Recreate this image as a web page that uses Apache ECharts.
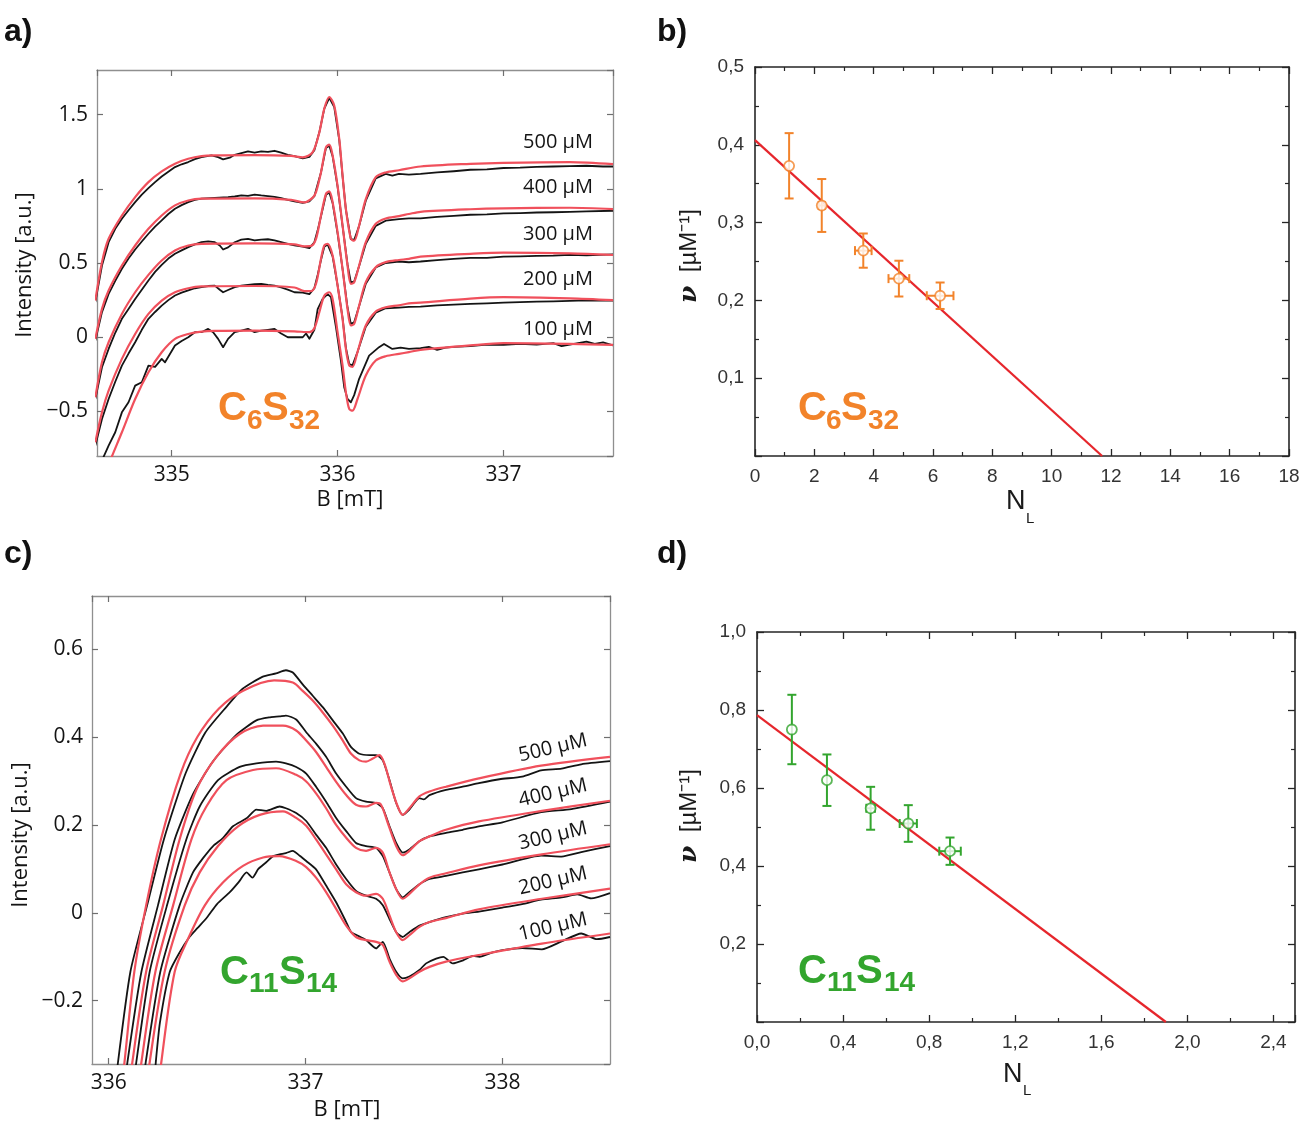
<!DOCTYPE html>
<html><head><meta charset="utf-8">
<script src="https://cdn.jsdelivr.net/npm/echarts@6/dist/echarts.min.js"></script>
<style>html,body{margin:0;padding:0;background:#fff}#c{width:1301px;height:1128px}</style>
</head><body><div id="c"></div>
<script>
// ---------- Panel a) C6S32 EPR spectra  [B (mT), Intensity (a.u.)] ----------
const aRed500 = [[334.54,0.247],[334.58,0.506],[334.62,0.663],[334.70,0.820],[334.78,0.944],[334.86,1.045],[334.94,1.117],[335.02,1.169],[335.10,1.202],[335.18,1.220],[335.26,1.225],[335.50,1.227],[335.72,1.222],[335.79,1.212],[335.85,1.247],[335.89,1.38],[335.92,1.54],[335.95,1.618],[335.98,1.56],[336.01,1.337],[336.03,1.09],[336.05,0.865],[336.08,0.663],[336.10,0.65],[336.13,0.753],[336.17,0.93],[336.23,1.078],[336.29,1.11],[336.37,1.125],[336.5,1.15],[336.8,1.168],[337.0,1.175],[337.4,1.18],[337.66,1.166]];
const aBlk500 = [[334.54,0.236],[334.58,0.483],[334.62,0.64],[334.66,0.73],[334.70,0.798],[334.74,0.855],[334.78,0.91],[334.82,0.96],[334.86,1.004],[334.90,1.045],[334.94,1.083],[334.98,1.115],[335.02,1.146],[335.06,1.165],[335.10,1.18],[335.14,1.2],[335.18,1.213],[335.24,1.225],[335.28,1.213],[335.31,1.198],[335.35,1.209],[335.38,1.229],[335.42,1.24],[335.46,1.252],[335.50,1.243],[335.54,1.252],[335.58,1.248],[335.62,1.256],[335.66,1.243],[335.70,1.229],[335.74,1.22],[335.79,1.205],[335.83,1.215],[335.86,1.26],[335.89,1.38],[335.92,1.54],[335.95,1.612],[335.98,1.55],[336.01,1.33],[336.03,1.085],[336.05,0.86],[336.08,0.66],[336.10,0.655],[336.13,0.75],[336.17,0.92],[336.23,1.07],[336.29,1.1],[336.33,1.088],[336.37,1.1],[336.43,1.095],[336.5,1.1],[336.6,1.11],[336.7,1.118],[336.8,1.128],[336.9,1.13],[337.0,1.14],[337.1,1.142],[337.2,1.148],[337.3,1.15],[337.4,1.152],[337.5,1.155],[337.6,1.15],[337.66,1.15]];
const aRed400 = [[334.54,-0.011],[334.58,0.191],[334.62,0.315],[334.70,0.483],[334.78,0.618],[334.86,0.73],[334.94,0.82],[335.02,0.888],[335.10,0.921],[335.18,0.933],[335.5,0.935],[335.72,0.925],[335.80,0.908],[335.85,0.94],[335.87,0.977],[335.90,1.11],[335.93,1.28],[335.95,1.297],[335.97,1.225],[336.0,1.02],[336.03,0.753],[336.06,0.483],[336.08,0.36],[336.10,0.37],[336.13,0.483],[336.17,0.64],[336.23,0.764],[336.29,0.80],[336.37,0.816],[336.43,0.83],[336.5,0.845],[336.8,0.862],[337.0,0.868],[337.4,0.872],[337.66,0.863]];
const aBlk400 = [[334.54,-0.022],[334.58,0.169],[334.62,0.292],[334.66,0.38],[334.70,0.461],[334.74,0.53],[334.78,0.591],[334.82,0.645],[334.86,0.697],[334.90,0.745],[334.94,0.787],[334.98,0.83],[335.02,0.865],[335.06,0.89],[335.10,0.91],[335.14,0.925],[335.18,0.933],[335.26,0.939],[335.34,0.944],[335.38,0.948],[335.42,0.955],[335.46,0.952],[335.50,0.96],[335.54,0.955],[335.58,0.951],[335.62,0.945],[335.66,0.937],[335.70,0.925],[335.74,0.915],[335.79,0.905],[335.83,0.915],[335.86,0.95],[335.88,1.03],[335.90,1.11],[335.93,1.275],[335.95,1.29],[335.97,1.22],[336.0,1.015],[336.03,0.75],[336.06,0.49],[336.08,0.37],[336.10,0.375],[336.13,0.48],[336.17,0.63],[336.23,0.75],[336.29,0.785],[336.37,0.795],[336.43,0.80],[336.5,0.80],[336.6,0.81],[336.7,0.818],[336.8,0.825],[336.9,0.828],[337.0,0.834],[337.1,0.836],[337.2,0.84],[337.3,0.842],[337.4,0.845],[337.5,0.848],[337.66,0.852]];
const aRed300 = [[334.54,-0.404],[334.58,-0.169],[334.62,-0.034],[334.70,0.157],[334.78,0.303],[334.86,0.42],[334.94,0.517],[335.02,0.584],[335.10,0.618],[335.18,0.629],[335.5,0.632],[335.74,0.625],[335.80,0.612],[335.84,0.615],[335.87,0.663],[335.90,0.82],[335.93,0.966],[335.95,0.982],[335.97,0.91],[336.0,0.708],[336.03,0.46],[336.06,0.19],[336.08,0.079],[336.10,0.09],[336.13,0.213],[336.17,0.371],[336.23,0.472],[336.29,0.506],[336.37,0.52],[336.43,0.528],[336.5,0.543],[336.8,0.562],[337.0,0.57],[337.4,0.565],[337.66,0.554]];
const aBlk300 = [[334.54,-0.416],[334.58,-0.202],[334.62,-0.079],[334.66,0.03],[334.70,0.124],[334.74,0.19],[334.78,0.258],[334.82,0.32],[334.86,0.382],[334.90,0.44],[334.94,0.488],[334.98,0.53],[335.02,0.562],[335.06,0.585],[335.10,0.607],[335.14,0.625],[335.18,0.64],[335.22,0.645],[335.26,0.64],[335.29,0.618],[335.31,0.591],[335.34,0.605],[335.38,0.64],[335.42,0.658],[335.46,0.663],[335.50,0.652],[335.54,0.658],[335.58,0.66],[335.62,0.652],[335.66,0.64],[335.70,0.629],[335.74,0.618],[335.79,0.61],[335.83,0.60],[335.86,0.64],[335.88,0.72],[335.90,0.815],[335.93,0.96],[335.95,0.975],[335.97,0.905],[336.0,0.70],[336.03,0.46],[336.06,0.2],[336.08,0.09],[336.10,0.1],[336.13,0.21],[336.17,0.36],[336.23,0.47],[336.29,0.50],[336.37,0.51],[336.43,0.505],[336.5,0.51],[336.6,0.52],[336.7,0.528],[336.8,0.535],[336.9,0.535],[337.0,0.543],[337.1,0.545],[337.2,0.548],[337.3,0.55],[337.4,0.555],[337.5,0.552],[337.66,0.558]];
const aRed200 = [[334.54,-0.708],[334.58,-0.506],[334.62,-0.36],[334.70,-0.146],[334.78,0.022],[334.86,0.157],[334.94,0.247],[335.02,0.303],[335.10,0.33],[335.18,0.342],[335.5,0.345],[335.74,0.335],[335.80,0.31],[335.84,0.31],[335.87,0.36],[335.90,0.528],[335.92,0.618],[335.94,0.629],[335.97,0.55],[336.0,0.348],[336.03,0.124],[336.05,-0.079],[336.07,-0.19],[336.09,-0.20],[336.12,-0.10],[336.17,0.079],[336.23,0.173],[336.29,0.202],[336.37,0.215],[336.43,0.228],[336.5,0.233],[336.8,0.26],[337.0,0.27],[337.4,0.262],[337.66,0.25]];
const aBlk200 = [[334.54,-0.73],[334.58,-0.551],[334.62,-0.416],[334.66,-0.3],[334.70,-0.191],[334.74,-0.11],[334.78,-0.034],[334.82,0.05],[334.86,0.124],[334.90,0.17],[334.94,0.213],[334.98,0.25],[335.02,0.281],[335.06,0.3],[335.10,0.315],[335.14,0.33],[335.18,0.337],[335.22,0.345],[335.26,0.348],[335.29,0.32],[335.31,0.303],[335.34,0.318],[335.38,0.337],[335.42,0.348],[335.46,0.353],[335.50,0.358],[335.54,0.36],[335.58,0.352],[335.62,0.348],[335.66,0.335],[335.70,0.321],[335.74,0.303],[335.79,0.30],[335.83,0.29],[335.86,0.33],[335.88,0.42],[335.90,0.52],[335.92,0.61],[335.94,0.625],[335.97,0.545],[336.0,0.35],[336.03,0.13],[336.05,-0.07],[336.07,-0.18],[336.09,-0.19],[336.12,-0.10],[336.17,0.07],[336.23,0.165],[336.29,0.195],[336.37,0.20],[336.43,0.205],[336.5,0.206],[336.6,0.215],[336.7,0.22],[336.8,0.225],[336.9,0.228],[337.0,0.233],[337.1,0.236],[337.2,0.24],[337.3,0.242],[337.4,0.245],[337.5,0.248],[337.66,0.247]];
const aRed100 = [[334.58,-0.98],[334.63,-0.83],[334.70,-0.64],[334.78,-0.416],[334.86,-0.236],[334.94,-0.101],[335.02,-0.011],[335.10,0.022],[335.18,0.038],[335.26,0.043],[335.5,0.045],[335.74,0.04],[335.83,0.034],[335.86,0.06],[335.89,0.169],[335.92,0.28],[335.95,0.303],[335.97,0.258],[336.0,0.034],[336.03,-0.19],[336.05,-0.37],[336.07,-0.483],[336.09,-0.494],[336.12,-0.416],[336.17,-0.258],[336.23,-0.157],[336.29,-0.128],[336.37,-0.112],[336.43,-0.10],[336.5,-0.085],[336.8,-0.055],[337.0,-0.04],[337.4,-0.045],[337.66,-0.052]];
const aBlk100 = [[334.56,-0.9],[334.58,-0.83],[334.62,-0.73],[334.66,-0.64],[334.70,-0.506],[334.74,-0.438],[334.78,-0.326],[334.82,-0.303],[334.86,-0.191],[334.90,-0.2],[334.94,-0.146],[334.96,-0.169],[335.02,-0.056],[335.06,-0.025],[335.10,0.0],[335.14,0.034],[335.18,0.034],[335.22,0.056],[335.25,0.034],[335.28,-0.011],[335.31,-0.067],[335.34,-0.011],[335.38,0.034],[335.42,0.045],[335.46,0.056],[335.50,0.034],[335.54,0.045],[335.58,0.05],[335.62,0.056],[335.66,0.025],[335.70,0.0],[335.74,0.0],[335.79,0.0],[335.81,0.025],[335.83,-0.01],[335.86,0.05],[335.88,0.19],[335.91,0.258],[335.94,0.29],[335.96,0.27],[335.99,0.07],[336.02,-0.157],[336.04,-0.337],[336.06,-0.416],[336.08,-0.438],[336.10,-0.39],[336.13,-0.28],[336.19,-0.124],[336.25,-0.067],[336.28,-0.045],[336.33,-0.079],[336.38,-0.07],[336.43,-0.079],[336.5,-0.074],[336.55,-0.065],[336.6,-0.085],[336.65,-0.07],[336.7,-0.065],[336.8,-0.06],[336.9,-0.05],[337.0,-0.052],[337.1,-0.045],[337.2,-0.05],[337.3,-0.04],[337.35,-0.06],[337.45,-0.04],[337.5,-0.03],[337.55,-0.045],[337.6,-0.035],[337.66,-0.055]];
const aLabels = ['500 µM','400 µM','300 µM','200 µM','100 µM'];

// ---------- Panel c) C11S14 EPR spectra ----------
const cRed500 = [[336.06,-0.42],[336.08,-0.34],[336.13,-0.134],[336.19,0.017],[336.265,0.167],[336.365,0.317],[336.45,0.40],[336.56,0.465],[336.68,0.505],[336.84,0.529],[336.935,0.524],[336.985,0.505],[337.036,0.483],[337.087,0.456],[337.138,0.426],[337.189,0.392],[337.231,0.362],[337.273,0.347],[337.307,0.344],[337.341,0.351],[337.375,0.359],[337.40,0.34],[337.434,0.287],[337.468,0.242],[337.493,0.223],[337.527,0.238],[337.578,0.265],[337.629,0.276],[337.713,0.287],[337.88,0.306],[338.196,0.335],[338.546,0.355]];
const cBlk500 = [[336.03,-0.42],[336.047,-0.34],[336.11,-0.134],[336.195,0.017],[336.28,0.167],[336.39,0.317],[336.49,0.41],[336.60,0.47],[336.68,0.51],[336.78,0.537],[336.85,0.545],[336.90,0.552],[336.935,0.547],[336.985,0.52],[337.036,0.494],[337.087,0.468],[337.138,0.438],[337.189,0.408],[337.231,0.377],[337.273,0.362],[337.324,0.359],[337.358,0.359],[337.392,0.347],[337.426,0.302],[337.46,0.25],[337.493,0.223],[337.527,0.235],[337.578,0.261],[337.60,0.258],[337.629,0.268],[337.713,0.28],[337.798,0.287],[337.88,0.295],[337.985,0.304],[338.1,0.31],[338.196,0.324],[338.3,0.328],[338.4,0.338],[338.546,0.345]];
const cRed400 = [[336.10,-0.42],[336.12,-0.34],[336.19,-0.134],[336.276,0.017],[336.36,0.167],[336.445,0.28],[336.547,0.355],[336.665,0.407],[336.784,0.426],[336.885,0.426],[336.952,0.415],[337.003,0.392],[337.053,0.366],[337.104,0.332],[337.155,0.298],[337.206,0.268],[337.256,0.246],[337.307,0.242],[337.358,0.25],[337.383,0.246],[337.417,0.205],[337.46,0.152],[337.493,0.131],[337.527,0.141],[337.578,0.163],[337.629,0.174],[337.713,0.189],[337.88,0.208],[338.2,0.232],[338.546,0.255]];
const cBlk400 = [[336.075,-0.42],[336.095,-0.34],[336.166,-0.134],[336.25,0.017],[336.335,0.167],[336.428,0.27],[336.53,0.345],[336.648,0.405],[336.75,0.438],[336.82,0.445],[336.867,0.447],[336.90,0.449],[336.952,0.44],[337.003,0.411],[337.053,0.385],[337.104,0.355],[337.155,0.317],[337.206,0.287],[337.256,0.261],[337.307,0.253],[337.358,0.25],[337.392,0.238],[337.426,0.197],[337.46,0.159],[337.493,0.137],[337.527,0.144],[337.578,0.163],[337.629,0.174],[337.713,0.182],[337.798,0.189],[337.88,0.197],[338.0,0.206],[338.196,0.229],[338.35,0.236],[338.546,0.253]];
const cRed300 = [[336.145,-0.42],[336.166,-0.34],[336.237,-0.134],[336.327,0.017],[336.42,0.167],[336.496,0.242],[336.598,0.302],[336.733,0.325],[336.85,0.329],[336.952,0.314],[337.003,0.299],[337.053,0.272],[337.104,0.238],[337.155,0.2],[337.206,0.171],[337.256,0.148],[337.307,0.141],[337.358,0.148],[337.392,0.137],[337.426,0.092],[337.46,0.054],[337.493,0.032],[337.527,0.043],[337.578,0.065],[337.629,0.08],[337.713,0.09],[337.88,0.108],[338.2,0.133],[338.546,0.156]];
const cBlk300 = [[336.12,-0.42],[336.14,-0.34],[336.208,-0.134],[336.296,0.017],[336.394,0.167],[336.462,0.242],[336.555,0.302],[336.665,0.332],[336.75,0.34],[336.85,0.344],[336.90,0.340],[336.952,0.332],[337.003,0.317],[337.053,0.287],[337.104,0.253],[337.155,0.216],[337.206,0.186],[337.256,0.159],[337.307,0.152],[337.358,0.148],[337.392,0.129],[337.426,0.092],[337.46,0.054],[337.493,0.035],[337.527,0.047],[337.578,0.065],[337.629,0.077],[337.713,0.084],[337.798,0.092],[337.88,0.099],[338.0,0.11],[338.196,0.13],[338.3,0.128],[338.4,0.138],[338.546,0.152]];
const cRed200 = [[336.19,-0.42],[336.208,-0.34],[336.284,-0.134],[336.386,0.017],[336.462,0.092],[336.555,0.152],[336.657,0.197],[336.767,0.223],[336.885,0.231],[336.952,0.216],[337.003,0.198],[337.053,0.167],[337.104,0.133],[337.155,0.099],[337.206,0.065],[337.256,0.047],[337.307,0.039],[337.358,0.043],[337.392,0.032],[337.426,-0.006],[337.46,-0.044],[337.493,-0.062],[337.527,-0.051],[337.578,-0.032],[337.629,-0.021],[337.713,-0.012],[337.88,0.008],[338.2,0.032],[338.546,0.055]];
const cBlk200 = [[336.168,-0.42],[336.188,-0.34],[336.262,-0.134],[336.36,0.017],[336.428,0.092],[336.48,0.125],[336.53,0.152],[336.58,0.17],[336.631,0.197],[336.70,0.215],[336.75,0.235],[336.80,0.232],[336.868,0.242],[336.90,0.238],[336.952,0.227],[337.003,0.209],[337.053,0.178],[337.104,0.148],[337.155,0.11],[337.206,0.077],[337.256,0.05],[337.307,0.039],[337.358,0.032],[337.392,0.017],[337.426,-0.014],[337.46,-0.044],[337.493,-0.055],[337.527,-0.044],[337.578,-0.029],[337.629,-0.021],[337.713,-0.01],[337.798,-0.002],[337.88,0.003],[338.0,0.012],[338.1,0.02],[338.196,0.03],[338.3,0.035],[338.38,0.042],[338.45,0.033],[338.546,0.045]];
const cRed100 = [[336.25,-0.42],[336.267,-0.34],[336.335,-0.134],[336.403,-0.059],[336.488,0.017],[336.58,0.069],[336.682,0.107],[336.784,0.126],[336.867,0.129],[336.952,0.118],[337.003,0.104],[337.053,0.08],[337.104,0.047],[337.155,0.009],[337.206,-0.029],[337.256,-0.055],[337.307,-0.062],[337.358,-0.066],[337.392,-0.073],[337.426,-0.111],[337.46,-0.141],[337.493,-0.156],[337.527,-0.149],[337.578,-0.134],[337.629,-0.123],[337.713,-0.111],[337.88,-0.096],[338.2,-0.07],[338.546,-0.047]];
const cBlk100 = [[336.225,-0.42],[336.239,-0.34],[336.26,-0.25],[336.31,-0.134],[336.36,-0.09],[336.41,-0.055],[336.45,-0.035],[336.5,-0.01],[336.55,0.02],[336.615,0.047],[336.66,0.07],[336.7,0.092],[336.73,0.08],[336.76,0.10],[336.8,0.115],[336.835,0.129],[336.867,0.133],[336.90,0.136],[336.935,0.141],[336.97,0.13],[337.003,0.118],[337.053,0.099],[337.104,0.062],[337.155,0.024],[337.206,-0.021],[337.231,-0.044],[337.256,-0.05],[337.307,-0.062],[337.358,-0.081],[337.392,-0.066],[337.426,-0.104],[337.46,-0.134],[337.493,-0.149],[337.527,-0.145],[337.578,-0.13],[337.612,-0.115],[337.663,-0.104],[337.70,-0.10],[337.747,-0.115],[337.80,-0.108],[337.85,-0.098],[337.883,-0.10],[337.95,-0.09],[338.0,-0.085],[338.1,-0.08],[338.2,-0.083],[338.3,-0.065],[338.4,-0.047],[338.48,-0.06],[338.546,-0.055]];
const cLabels = ['500 µM','400 µM','300 µM','200 µM','100 µM'];

// ---------- Panel b) C6S32 : nu vs N_L ----------
const bNL   = [1.15, 2.25, 3.65, 4.85, 6.24];
const bNu   = [0.373, 0.322, 0.264, 0.228, 0.206];
const bNuErr= [0.042, 0.034, 0.022, 0.023, 0.017];
const bNLErr= [0, 0.1, 0.28, 0.35, 0.45];
const bFit  = [[0, 0.406], [11.7, 0]];

// ---------- Panel d) C11S14 : nu vs N_L ----------
const dNL   = [0.162, 0.325, 0.528, 0.703, 0.897];
const dNu   = [0.75, 0.62, 0.548, 0.509, 0.438];
const dNuErr= [0.089, 0.066, 0.055, 0.047, 0.035];
const dNLErr= [0, 0, 0.02, 0.04, 0.05];
const dFit  = [[0, 0.787], [1.90, 0]];

// ---------- styling ----------
const FA = '"Open Sans", "Liberation Sans", sans-serif';
const FB = '"Liberation Sans", Arial, sans-serif';
const RED_FIT = '#f0505c', BLACK = '#141414', ORANGE = '#f2832a', GREEN = '#33a52e', LINE_RED = '#e6262c';

const fmtDot = v => { const s = String(Math.round(v * 10) / 10); return v < 0 ? '\u2212' + s.slice(1) : s; };
const fmtComma1 = v => v.toFixed(1).replace('.', ',');
const fmtInt = v => String(Math.round(v));

function epAxis(gi, pos, min, max, split, fmt, showLabel) {
  return {
    type: 'value', gridIndex: gi, position: pos, min, max, splitNumber: split, scale: true,
    axisLine: {show: true, onZero: false, lineStyle: {color: '#8f8f8f', width: 1.3}},
    axisTick: {show: true, inside: true, length: 6, lineStyle: {color: '#6f6f6f', width: 1.2}},
    axisLabel: {show: showLabel, margin: 9, color: '#141414', fontSize: 21, fontFamily: FA,
      showMinLabel: false, showMaxLabel: false, formatter: fmt},
    splitLine: {show: false}
  };
}
function orAxis(gi, pos, min, max, interval, fmt, showLabel, hideMin, hideMax) {
  return {
    type: 'value', gridIndex: gi, position: pos, min, max, interval,
    axisLine: {show: true, onZero: false, lineStyle: {color: '#262626', width: 1.6}},
    axisTick: {show: true, inside: true, length: 7, lineStyle: {color: '#262626', width: 1.3}},
    minorTick: {show: true, splitNumber: 2, length: 4, lineStyle: {color: '#262626', width: 1.2}},
    axisLabel: {show: showLabel, margin: 11, color: '#333333', fontSize: 19, fontFamily: FB,
      showMinLabel: !hideMin, showMaxLabel: !hideMax, formatter: fmt},
    splitLine: {show: false}, minorSplitLine: {show: false}
  };
}

const grids = [
  {left: 97, top: 70, width: 516, height: 386},   // a
  {left: 755, top: 67, width: 534, height: 389},  // b
  {left: 92, top: 596, width: 518, height: 468},  // c
  {left: 757, top: 632, width: 538, height: 390}  // d
].map(g => Object.assign({outerBoundsMode: 'none', containLabel: false}, g));

const xAxes = [
  epAxis(0, 'bottom', 334.55, 337.66, 3, fmtInt, true), epAxis(0, 'top', 334.55, 337.66, 3, fmtInt, false),
  orAxis(1, 'bottom', 0, 18, 2, fmtInt, true, false, false), orAxis(1, 'top', 0, 18, 2, fmtInt, false),
  epAxis(2, 'bottom', 335.915, 338.546, 3, fmtInt, true), epAxis(2, 'top', 335.915, 338.546, 3, fmtInt, false),
  orAxis(3, 'bottom', 0, 2.5, 0.4, fmtComma1, true, false, true), orAxis(3, 'top', 0, 2.5, 0.4, fmtComma1, false)
];
const yAxes = [
  epAxis(0, 'left', -0.8, 1.8, 5, fmtDot, true), epAxis(0, 'right', -0.8, 1.8, 5, fmtDot, false),
  orAxis(1, 'left', 0, 0.5, 0.1, fmtComma1, true, true, false), orAxis(1, 'right', 0, 0.5, 0.1, fmtComma1, false),
  epAxis(2, 'left', -0.344, 0.721, 5, fmtDot, true), epAxis(2, 'right', -0.344, 0.721, 5, fmtDot, false),
  orAxis(3, 'left', 0, 1.0, 0.2, fmtComma1, true, true, false), orAxis(3, 'right', 0, 1.0, 0.2, fmtComma1, false)
];

function ln(data, ai, color, width, smooth, z) {
  return {type: 'line', xAxisIndex: ai, yAxisIndex: ai, data, symbol: 'none', showSymbol: false,
    smooth: smooth, clip: true, lineStyle: {color, width, join: 'round'}, z, silent: true, animation: false};
}
function errSeries(ai, xs, ys, exs, eys, color) {
  const pts = xs.map((x, i) => [x, ys[i], exs[i], eys[i]]);
  return {type: 'custom', xAxisIndex: ai, yAxisIndex: ai, data: pts, z: 6, silent: true, animation: false,
    renderItem(params, api) {
      const x = api.value(0), y = api.value(1), ex = api.value(2), ey = api.value(3);
      const t = api.coord([x, y + ey]), b = api.coord([x, y - ey]);
      const st = {stroke: color, lineWidth: 2};
      const cap = 4.5;
      const ch = [
        {type: 'line', shape: {x1: t[0], y1: t[1], x2: b[0], y2: b[1]}, style: st},
        {type: 'line', shape: {x1: t[0] - cap, y1: t[1], x2: t[0] + cap, y2: t[1]}, style: st},
        {type: 'line', shape: {x1: b[0] - cap, y1: b[1], x2: b[0] + cap, y2: b[1]}, style: st}];
      if (ex > 0) {
        const l = api.coord([x - ex, y]), r = api.coord([x + ex, y]);
        ch.push({type: 'line', shape: {x1: l[0], y1: l[1], x2: r[0], y2: r[1]}, style: st});
        ch.push({type: 'line', shape: {x1: l[0], y1: l[1] - cap, x2: l[0], y2: l[1] + cap}, style: st});
        ch.push({type: 'line', shape: {x1: r[0], y1: r[1] - cap, x2: r[0], y2: r[1] + cap}, style: st});
      }
      return {type: 'group', children: ch};
    }};
}
function pts(ai, xs, ys, color) {
  return {type: 'scatter', xAxisIndex: ai, yAxisIndex: ai, data: xs.map((x, i) => [x, ys[i]]),
    symbol: 'circle', symbolSize: 10, itemStyle: {color: '#fff', borderColor: color, borderWidth: 1.8},
    z: 10, silent: true, animation: false};
}

const series = [];
[aBlk500, aBlk400, aBlk300, aBlk200, aBlk100].forEach(d => series.push(ln(d, 0, BLACK, 1.8, false, 3)));
[aRed500, aRed400, aRed300, aRed200, aRed100].forEach(d => series.push(ln(d, 0, RED_FIT, 2.2, 0.3, 4)));
[cBlk500, cBlk400, cBlk300, cBlk200, cBlk100].forEach(d => series.push(ln(d, 4, BLACK, 1.8, 0.2, 3)));
[cRed500, cRed400, cRed300, cRed200, cRed100].forEach(d => series.push(ln(d, 4, RED_FIT, 2.2, 0.3, 4)));
series.push(ln(bFit, 2, LINE_RED, 2.2, false, 4));
series.push(errSeries(2, bNL, bNu, bNLErr, bNuErr, ORANGE));
series.push(pts(2, bNL, bNu, ORANGE));
series.push(ln(dFit, 6, LINE_RED, 2.2, false, 4));
series.push(errSeries(6, dNL, dNu, dNLErr, dNuErr, GREEN));
series.push(pts(6, dNL, dNu, GREEN));

// ---------- text ----------
function T(text, x, y, font, fill, align, rot, extra) {
  return Object.assign({type: 'text', x, y, rotation: rot || 0, z: 100, silent: true,
    style: {text, font, fill, textAlign: align || 'center', align: align || 'center',
      textVerticalAlign: 'middle', verticalAlign: 'middle'}}, extra || {});
}
const PL = 'bold 32px ' + FB;
const NU = {type: 'text', rotation: Math.PI / 2, z: 100, silent: true,
  style: {text: '{n|ν}  [µM⁻¹]', font: '24px ' + FB, fill: '#1a1a1a', textAlign: 'center', align: 'center',
    textVerticalAlign: 'middle', verticalAlign: 'middle',
    rich: {n: {font: 'bold italic 25px "DejaVu Serif"', fill: '#1a1a1a'}}}};
const graphics = [
  T('a)', 4, 32, PL, '#111', 'left'), T('b)', 657, 32, PL, '#111', 'left'),
  T('c)', 4, 554, PL, '#111', 'left'), T('d)', 657, 554, PL, '#111', 'left'),
  T('Intensity [a.u.]', 25, 265, '22px ' + FA, '#141414', 'center', Math.PI / 2),
  T('B [mT]', 350, 500, '22px ' + FA, '#141414'),
  T('Intensity [a.u.]', 21, 835, '22px ' + FA, '#141414', 'center', Math.PI / 2),
  T('B [mT]', 347, 1110, '22px ' + FA, '#141414'),
  // C6S32 (a)
  T('C', 218, 409, 'bold 40px ' + FB, ORANGE, 'left'), T('6', 247, 421, 'bold 28px ' + FB, ORANGE, 'left'),
  T('S', 262, 409, 'bold 40px ' + FB, ORANGE, 'left'), T('32', 289, 421, 'bold 28px ' + FB, ORANGE, 'left'),
  // C6S32 (b)
  T('C', 798, 409, 'bold 40px ' + FB, ORANGE, 'left'), T('6', 826, 421, 'bold 28px ' + FB, ORANGE, 'left'),
  T('S', 841, 409, 'bold 40px ' + FB, ORANGE, 'left'), T('32', 868, 421, 'bold 28px ' + FB, ORANGE, 'left'),
  // C11S14 (c)
  T('C', 220, 973, 'bold 40px ' + FB, GREEN, 'left'), T('11', 249, 984, 'bold 28px ' + FB, GREEN, 'left'),
  T('S', 279, 973, 'bold 40px ' + FB, GREEN, 'left'), T('14', 306, 984, 'bold 28px ' + FB, GREEN, 'left'),
  // C11S14 (d)
  T('C', 798, 972, 'bold 40px ' + FB, GREEN, 'left'), T('11', 827, 983, 'bold 28px ' + FB, GREEN, 'left'),
  T('S', 856, 972, 'bold 40px ' + FB, GREEN, 'left'), T('14', 884, 983, 'bold 28px ' + FB, GREEN, 'left'),
  // N_L
  T('N', 1006, 502, '27px ' + FB, '#1a1a1a', 'left'), T('L', 1026, 519, '15px ' + FB, '#1a1a1a', 'left'),
  T('N', 1003, 1075, '27px ' + FB, '#1a1a1a', 'left'), T('L', 1023, 1091, '15px ' + FB, '#1a1a1a', 'left'),
  // nu axis titles
  Object.assign({}, NU, {x: 689, y: 256}),
  Object.assign({}, NU, {x: 689, y: 816})
];
const aLabY = [142, 187, 234, 279, 329];
aLabels.forEach((s, i) => graphics.push(T(s, 558, aLabY[i], '20px ' + FA, '#141414')));
const cLabY = [748, 793, 836, 881, 927];
cLabels.forEach((s, i) => graphics.push(T(s, 553, cLabY[i], '20px ' + FA, '#141414', 'center', 0.23)));

const chart = echarts.init(document.getElementById('c'), null, {renderer: 'canvas'});
chart.setOption({
  backgroundColor: '#ffffff',
  animation: false,
  grid: grids,
  xAxis: xAxes,
  yAxis: yAxes,
  series,
  graphic: {elements: graphics}
});
</script>
</body></html>
